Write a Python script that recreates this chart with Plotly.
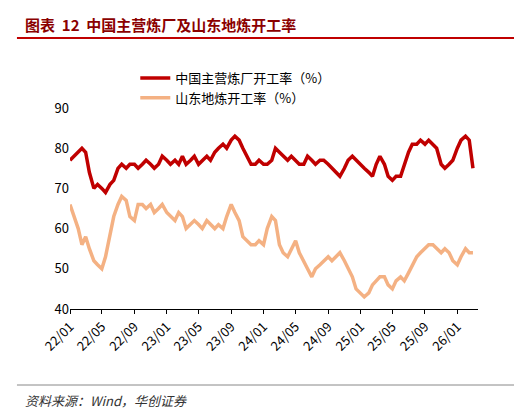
import plotly.graph_objects as go
import pandas as pd

dates = pd.date_range("2022-01-01", periods=101, freq="SMS")
main_rate = [77,78,79,80,79,74,70,71,70,69,71,72,75,76,75,76,76,75,76,77,76,75,76,78,
             77,76,77,76,78,76,77,78,76,77,78,77,79,80,81,80,82,83,82,80,78,76,76,77,
             76,76,77,80,79,78,77,78,77,76,76,78,77,76,77,77,76,75,74,73,75,77,78,77,
             76,75,74,73,76,78,76,73,72,73,73,76,79,81,81,82,81,82,81,80,76,75,76,77,
             80,82,83,82,75]
sd_rate = [66,63,60,56,58,55,52,51,50,53,58,63,66,68,67,63,62,66,66,65,66,64,65,66,
           64,63,62,64,63,60,61,62,61,60,62,61,60,61,60,63,66,64,62,58,57,56,56,57,
           56,60,63,62,56,54,53,55,57,54,52,50,48,50,51,52,53,52,53,54,52,50,48,45,
           44,43,44,46,47,48,48,46,45,47,48,47,49,51,53,54,55,56,56,55,54,55,54,52,
           51,53,55,54,54]

fig = go.Figure()
fig.add_trace(go.Scatter(x=dates, y=main_rate, name="中国主营炼厂开工率（%）",
                         mode="lines", line=dict(color="#C00000", width=3.5)))
fig.add_trace(go.Scatter(x=dates, y=sd_rate, name="山东地炼开工率（%）",
                         mode="lines", line=dict(color="#F4B183", width=3.5)))
H = 409 - 100 - 108
fig.update_layout(
    width=522, height=409, plot_bgcolor="white", paper_bgcolor="white",
    margin=dict(l=62, r=52, t=100, b=108),
    font=dict(family="Noto Sans CJK SC", size=13, color="black"),
    legend=dict(x=0.16, y=1 + 45/H, xanchor="left", yanchor="top", bgcolor="rgba(0,0,0,0)",
                font=dict(size=13)),
    xaxis=dict(tickformat="%y/%m", dtick="M4", tick0="2022-01-01", tickangle=-45,
               range=["2022-01-01", "2026-03-20"], showgrid=False, showline=True,
               linecolor="black", ticks="outside", ticklen=4, tickcolor="black"),
    yaxis=dict(range=[40, 90], dtick=10, showgrid=False, showline=False, zeroline=False),
    annotations=[
        dict(text="<b>图表  12  中国主营炼厂及山东地炼开工率</b>", xref="paper", yref="paper",
             x=-0.115, y=1 + 84/H, xanchor="left", yanchor="middle", showarrow=False,
             font=dict(size=15, color="#8B0000")),
        dict(text="<i>资料来源：Wind，华创证券</i>", xref="paper", yref="paper",
             x=-0.115, y=-91/H, xanchor="left", yanchor="middle", showarrow=False,
             font=dict(size=13, color="#333")),
    ],
    shapes=[
        dict(type="line", xref="paper", yref="paper", x0=-0.13, x1=1.12, y0=1 + 70/H, y1=1 + 70/H,
             line=dict(color="#C00000", width=2)),
        dict(type="line", xref="paper", yref="paper", x0=-0.13, x1=1.12, y0=-76/H, y1=-76/H,
             line=dict(color="#888", width=1)),
    ],
)
fig.write_html("out.html")
